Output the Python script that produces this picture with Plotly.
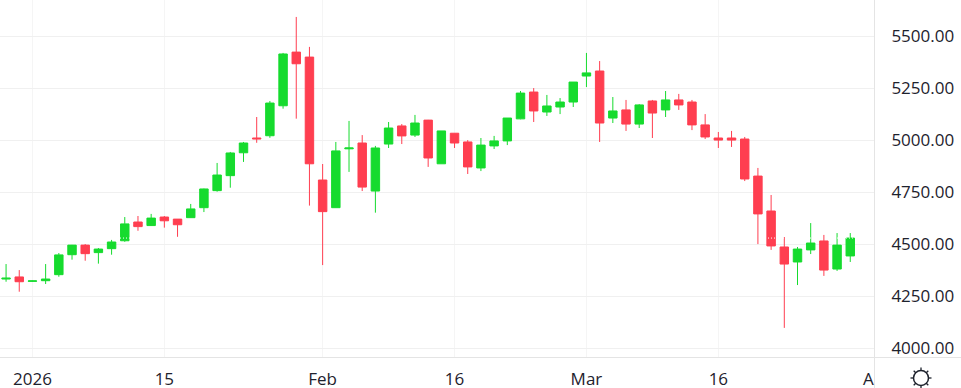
import plotly.graph_objects as go

dates = ["2025-12-30","2025-12-31","2026-01-01","2026-01-02","2026-01-05","2026-01-06","2026-01-07","2026-01-08","2026-01-09",
"2026-01-12","2026-01-13","2026-01-14","2026-01-15","2026-01-16","2026-01-19","2026-01-20","2026-01-21","2026-01-22","2026-01-23",
"2026-01-26","2026-01-27","2026-01-28","2026-01-29","2026-01-30","2026-02-02","2026-02-03","2026-02-04","2026-02-05","2026-02-06",
"2026-02-09","2026-02-10","2026-02-11","2026-02-12","2026-02-13","2026-02-16","2026-02-17","2026-02-18","2026-02-19","2026-02-20",
"2026-02-23","2026-02-24","2026-02-25","2026-02-26","2026-02-27","2026-03-02","2026-03-03","2026-03-04","2026-03-05","2026-03-06",
"2026-03-09","2026-03-10","2026-03-11","2026-03-12","2026-03-13","2026-03-16","2026-03-17","2026-03-18","2026-03-19","2026-03-20",
"2026-03-23","2026-03-24","2026-03-25","2026-03-26","2026-03-27","2026-03-30"]
opens = [4334,4344,4323,4326,4355,4451,4497,4461,4480,4518,4608,4591,4632,4622,4629,4677,4759,4831,4941,5012,5023,5167,5425,5401,4810,
4677,4960,4988,4757,4983,5070,5026,5098,4888,5035,4993,4868,4974,4998,5104,5233,5137,5161,5185,5310,5334,5108,5147,5079,5190,5147,5195,
5185,5075,5012,5012,5007,4829,4661,4488,4416,4474,4517,4382,4445]
highs = [4406,4377,4327,4406,4459,4498,4502,4483,4522,4632,4637,4647,4637,4622,4695,4769,4892,4945,4993,5113,5190,5421,5594,5450,4887,
4993,5094,5026,4974,5089,5079,5123,5099,5046,5036,5002,5012,5022,5108,5238,5252,5219,5204,5281,5421,5382,5209,5195,5175,5195,5238,5224,
5195,5127,5041,5046,5017,4868,4738,4536,4488,4603,4546,4555,4555]
lows = [4321,4273,4321,4310,4345,4427,4422,4408,4451,4513,4566,4590,4581,4537,4629,4656,4754,4773,4897,4989,5013,5153,5105,4687,4401,
4677,4849,4757,4653,4964,4983,5017,4873,4888,4964,4839,4853,4959,4978,5102,5089,5118,5127,5161,5257,4993,5084,5046,5060,5012,5113,5147,
5050,5007,4964,4969,4805,4502,4474,4099,4305,4454,4349,4373,4416]
closes = [4338,4321,4325,4334,4450,4497,4456,4478,4512,4599,4586,4627,4614,4595,4671,4767,4834,4940,4988,5008,5180,5416,5369,4888,4658,
4950,4964,4776,4964,5060,5022,5084,4916,5046,4988,4873,4978,4998,5108,5228,5142,5166,5185,5281,5325,5084,5142,5079,5171,5132,5195,5171,
5075,5017,5002,5002,4815,4647,4493,4406,4478,4507,4377,4497,4531]

x_tick_dates = ["2026-01-01","2026-01-15","2026-02-02","2026-02-16","2026-03-02","2026-03-16"]
x_tick_labels = ["2026","15","Feb","16","Mar","16"]
y_ticks = [4000,4250,4500,4750,5000,5250,5500]
last_price = 4531

W, H, PLOT_W, PLOT_H = 961, 388, 874, 357
FONT = "Open Sans"
UP, DOWN, TEXT = "#16DB2E", "#FF3E50", "#1E222D"

fig = go.Figure(go.Candlestick(
    x=dates, open=opens, high=highs, low=lows, close=closes,
    increasing=dict(line=dict(color=UP, width=1), fillcolor=UP),
    decreasing=dict(line=dict(color=DOWN, width=1), fillcolor=DOWN),
    whiskerwidth=0, hoverinfo="skip",
))

dx = lambda v: v / PLOT_W
dy = lambda v: 1 - v / PLOT_H

shapes = [
    dict(type="line", xref="paper", yref="y", x0=0, x1=1, y0=last_price, y1=last_price, layer="above",
         line=dict(color="#FFFFFF", width=1, dash="1px,2px")),
    dict(type="line", xref="paper", yref="paper", x0=dx(874.5), x1=dx(874.5), y0=dy(0), y1=dy(388), layer="below",
         line=dict(color="#E4E4E4", width=1)),
    dict(type="line", xref="paper", yref="paper", x0=0, x1=dx(961), y0=dy(357.5), y1=dy(357.5), layer="below",
         line=dict(color="#E4E4E4", width=1)),
    dict(type="circle", xref="paper", yref="paper", x0=dx(913.5), x1=dx(928.5), y0=dy(385.5), y1=dy(370.5),
         line=dict(color=TEXT, width=1.5)),
]
for a, b, c, d in [(921,367.5,921,370.5),(921,385.5,921,388),(910.5,378,913.5,378),(928.5,378,931.5,378),
                   (913.7,370.7,915.7,372.7),(928.3,370.7,926.3,372.7),(913.7,385.3,915.7,383.3),(928.3,385.3,926.3,383.3)]:
    shapes.append(dict(type="line", xref="paper", yref="paper", x0=dx(a), x1=dx(c), y0=dy(b), y1=dy(d),
                       line=dict(color=TEXT, width=1.3)))

tfont = dict(family=FONT, size=17, color=TEXT, weight=500)
fig.update_layout(
    width=W, height=H, margin=dict(l=0, r=W-PLOT_W, t=0, b=H-PLOT_H, pad=0, autoexpand=False),
    paper_bgcolor="white", plot_bgcolor="white", showlegend=False, boxgap=0.36, boxgroupgap=0,
    font=dict(family=FONT, size=17, color=TEXT),
    shapes=shapes,
    annotations=[dict(text="A", xref="paper", yref="paper", x=dx(868), y=dy(378), xanchor="center", yanchor="middle",
                      showarrow=False, font=tfont)],
    xaxis=dict(type="category", range=[-0.46, 65.8], rangeslider=dict(visible=False), showline=False,
               tickmode="array", tickvals=x_tick_dates, ticktext=x_tick_labels, ticks="outside", ticklen=7,
               tickcolor="rgba(0,0,0,0)", showgrid=True, gridcolor="#F5F5F5", gridwidth=1, zeroline=False,
               tickfont=tfont),
    yaxis=dict(side="right", range=[3959.1, 5675.5], tickmode="array", tickvals=y_ticks,
               ticktext=[f"{v:.2f}" for v in y_ticks], ticks="outside", ticklen=13, tickcolor="rgba(0,0,0,0)",
               showgrid=True, gridcolor="#F0F0F0", gridwidth=1, zeroline=False, showline=False,
               tickfont=tfont),
)
fig.write_html("out.html", config=dict(displayModeBar=False),
               post_script="document.body.style.margin='0';document.body.style.overflow='hidden';")
